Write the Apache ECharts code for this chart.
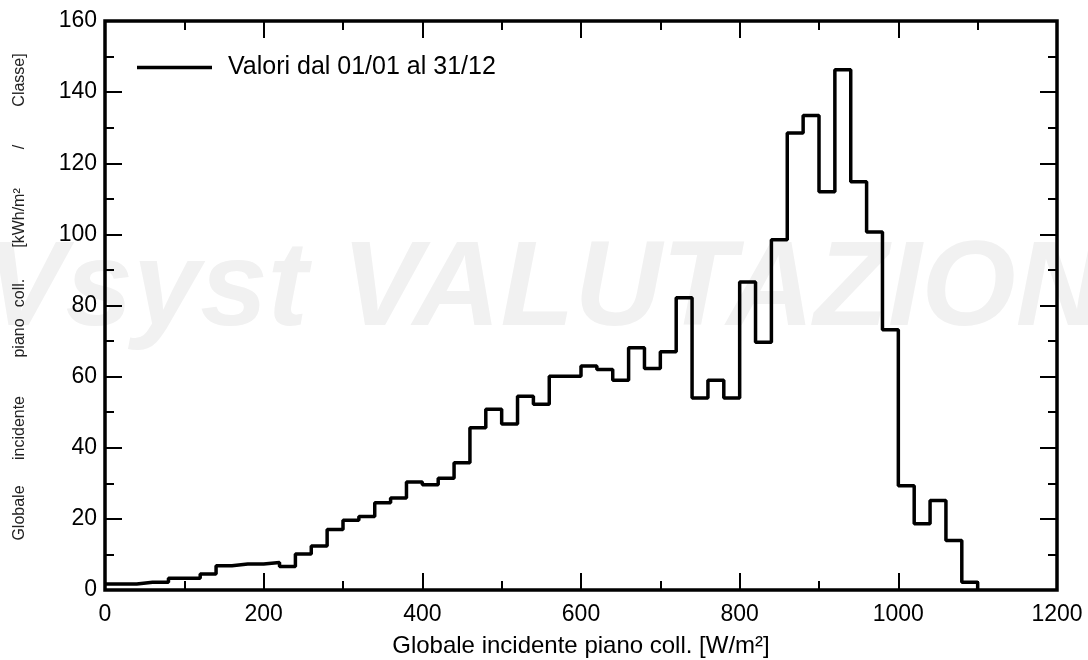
<!DOCTYPE html>
<html>
<head>
<meta charset="utf-8">
<script src="https://cdn.jsdelivr.net/npm/echarts@6/dist/echarts.min.js"></script>
<style>
  html, body { margin: 0; padding: 0; background: #fff; }
  #chart { width: 1088px; height: 660px; }
</style>
</head>
<body>
<div id="chart"></div>
<script>
// inizio classe [W/m²]
var binStart = [0, 20, 40, 60, 80, 100, 120, 140, 160, 180,
    200, 220, 240, 260, 280, 300, 320, 340, 360, 380,
    400, 420, 440, 460, 480, 500, 520, 540, 560, 580,
    600, 620, 640, 660, 680, 700, 720, 740, 760, 780,
    800, 820, 840, 860, 880, 900, 920, 940, 960, 980,
    1000, 1020, 1040, 1060, 1080, 1100];
// kWh/m² per classe (ultimo punto chiude a zero)
var energia = [1.7, 1.7, 2.2, 2.2, 3.3, 3.3, 4.5, 6.8, 7.3, 7.3,
    7.7, 6.6, 10.1, 12.4, 17.0, 19.6, 20.7, 24.5, 25.9, 30.4,
    29.6, 31.4, 35.8, 45.6, 50.8, 46.7, 54.5, 52.2, 60.1, 60.1,
    63.0, 62.0, 59.0, 68.1, 62.3, 67.0, 82.2, 54.0, 59.0, 54.0,
    86.6, 69.7, 98.5, 128.5, 133.4, 112.0, 146.3, 114.8, 100.7, 73.2,
    29.3, 18.6, 25.2, 13.9, 2.2, 0];
var serieNome = 'Valori dal 01/01 al 31/12';
var xNome = 'Globale incidente piano coll. [W/m²]';
// parole del titolo asse y, con la loro posizione verticale
var yParole = ['Globale', 'incidente', 'piano', 'coll.', '[kWh/m²', '/', 'Classe]'];
var yParolePos = [513, 428, 338, 293, 218, 147, 80];

var font = 'Arial, "Liberation Sans", sans-serif';
var chart = echarts.init(document.getElementById('chart'));

var dati = [];
for (var i = 0; i < binStart.length; i++) {
    dati.push([binStart[i], energia[i]]);
}

var grafici = [{
    type: 'text',
    z: -10,
    left: 'center',
    top: 231,
    style: {
        text: 'PVsyst VALUTAZIONE',
        font: 'italic bold 121px ' + font,
        fill: '#f1f1f1'
    }
}];
for (var k = 0; k < yParole.length; k++) {
    grafici.push({
        type: 'text',
        x: 20,
        y: yParolePos[k],
        rotation: Math.PI / 2,
        style: {
            text: yParole[k],
            font: '16px ' + font,
            fill: '#222',
            align: 'center',
            verticalAlign: 'middle'
        }
    });
}

function asse(tipo, pos, min, max, step, etichette) {
    return {
        type: 'value',
        position: pos,
        min: min,
        max: max,
        interval: step,
        axisLine: { show: false, onZero: false },
        axisTick: { show: true, inside: true, length: 17, lineStyle: { color: '#000', width: 2 } },
        minorTick: { show: true, splitNumber: 2, length: 9, lineStyle: { color: '#000', width: 2 } },
        splitLine: { show: false },
        axisLabel: {
            show: etichette,
            color: '#000',
            fontSize: 23,
            fontFamily: font,
            margin: tipo === 'x' ? 13 : 8,
            formatter: function (v) { return String(v); }
        }
    };
}

var xBasso = asse('x', 'bottom', 0, 1200, 200, true);
xBasso.name = xNome;
xBasso.nameLocation = 'middle';
xBasso.nameGap = 44;
xBasso.nameTextStyle = { color: '#000', fontSize: 24, fontFamily: font };

var option = {
    animation: false,
    backgroundColor: '#fff',
    graphic: grafici,
    grid: {
        left: 105,
        right: 31,
        top: 21,
        bottom: 70,
        outerBoundsMode: 'none',
        containLabel: false,
        show: true,
        borderColor: '#000',
        borderWidth: 3.5
    },
    legend: {
        data: [serieNome],
        left: 132,
        top: 50,
        icon: 'rect',
        itemWidth: 75,
        itemHeight: 3.5,
        textStyle: { color: '#000', fontSize: 25, fontFamily: font, padding: [0, 0, 0, 11] }
    },
    xAxis: [xBasso, asse('x', 'top', 0, 1200, 200, false)],
    yAxis: [asse('y', 'left', 0, 160, 20, true), asse('y', 'right', 0, 160, 20, false)],
    series: [{
        name: serieNome,
        type: 'line',
        step: 'end',
        showSymbol: false,
        data: dati,
        color: '#000',
        lineStyle: { color: '#000', width: 3.5 },
        z: 5
    }]
};
chart.setOption(option);
</script>
</body>
</html>
